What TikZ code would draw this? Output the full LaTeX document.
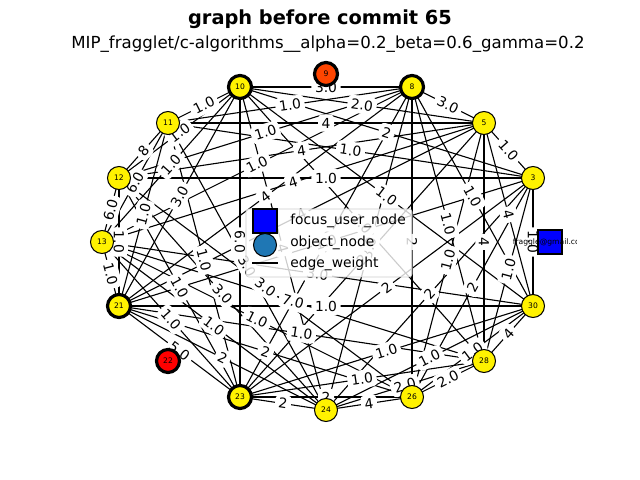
\documentclass[tikz,border=0pt]{standalone}
\usepackage{fontspec}
\setmainfont{DejaVu Sans}
\definecolor{mplblue}{HTML}{1F77B4}
\definecolor{orangered}{HTML}{FF4500}
\pgfdeclarelayer{edges}
\pgfdeclarelayer{weights}
\pgfsetlayers{edges,weights,main}
\tikzset{
  obj/.style={circle, draw, fill=yellow, line width=0.75pt, minimum size=23*0.254mm, inner sep=0pt, font=\fontsize{5.5}{6}\selectfont},
  hub/.style={line width=2.3pt},
  focus/.style={draw, fill=blue, line width=0.75pt, minimum size=24*0.254mm, inner sep=0pt},
  wlabel/.style={midway, sloped, fill=white, rounded corners=3pt, inner sep=2.6pt, font=\fontsize{10}{12}\selectfont},
  keytext/.style={anchor=west, inner sep=0pt, font=\fontsize{10}{12}\selectfont},
}
\begin{document}
\begin{tikzpicture}[x=0.254mm, y=-0.254mm]
\useasboundingbox (0,0) rectangle (640,480);
\node[font=\bfseries\fontsize{14}{16}\selectfont] (title) at (320,19) {graph before commit 65};
\node[font=\fontsize{12}{14}\selectfont] (subtitle) at (328,44) {MIP\_fragglet/c-algorithms\_\_alpha=0.2\_beta=0.6\_gamma=0.2};

\node[focus] (focus) at (550,242) {};
\node[obj] (n3) at (533,178) {3};
\node[obj] (n5) at (484,123) {5};
\node[obj, hub] (n8) at (412,87) {8};
\node[obj, hub, fill=orangered] (n9) at (326,74) {9};
\node[obj, hub] (n10) at (240,87) {10};
\node[obj] (n11) at (168,123) {11};
\node[obj] (n12) at (119,178) {12};
\node[obj] (n13) at (102,242) {13};
\node[obj, hub] (n21) at (119,306) {21};
\node[obj, hub, fill=red] (n22) at (168,361) {22};
\node[obj, hub] (n23) at (240,397) {23};
\node[obj] (n24) at (326,410) {24};
\node[obj] (n26) at (412,397) {26};
\node[obj] (n28) at (484,361) {28};
\node[obj] (n30) at (533,306) {30};
\begin{scope}
  \clip (0,0) rectangle (576,480);
  \node[font=\fontsize{5.5}{6}\selectfont] (focuslabel) at (focus) {fraggle@gmail.com};
\end{scope}

\def\weights{10/8/3.0, 10/11/1.0, 11/8/1.0, 10/5/2.0, 8/5/3.0, 5/3/1.0, 10/12/1.0, 11/12/8, 11/13/6.0, 12/13/6.0,
  12/21/1.0, 13/21/1.0, 12/23/1.0, 13/23/1.0, 13/24/1.0, 21/23/5.0, 21/24/2, 21/26/2, 13/26/1.0, 21/28/1.0,
  13/28/7.0, 21/30/1.0, 12/26/3.0, 12/24/3.0, 11/23/1.0, 21/10/3.0, 21/11/1.0, 13/10/1.0, 13/8/1.0, 12/8/1.0,
  11/5/4, 12/5/4, 11/3/1.0, 13/5/4, 12/3/1.0, 10/3/2, 21/8/4, 10/30/1.0, 8/30/1.0, 8/28/1.0,
  5/26/1.0, 5/28/4, 5/30/4, 3/28/1.0, 3/30/1.0, 30/28/4, 30/26/1.0, 28/26/2.0, 24/28/2.0, 24/30/1.0,
  23/30/1.0, 23/28/1.0, 23/24/2, 24/26/4, 8/26/2, 3/24/2, 3/26/2, 3/23/2, 10/23/6.0, 23/26/2,
  10/24/4, 10/28/1.0, 8/23/1.0, 8/24/3.0, 5/23/2, 5/21/4, 3/21/1.0, 13/30/3.0, 11/24/3.0}
\begin{pgfonlayer}{edges}
  \foreach \a/\b/\w in \weights
    \draw[line width=0.8pt] (n\a.center) -- (n\b.center);
\end{pgfonlayer}
\begin{pgfonlayer}{weights}
  \foreach \a/\b/\w in \weights
    \path (n\a.center) -- (n\b.center) node[wlabel] {\w};
\end{pgfonlayer}

\draw[black!20, fill=white, fill opacity=0.8, rounded corners=2pt] (246,209) rectangle (412,277);
\node[focus] (keyfocus) at (265,221) {};
\node[obj, fill=mplblue] (keyobj) at (265,245) {};
\draw[line width=0.8pt] (252,263) -- (278,263);
\node[keytext] (keyfocustext) at (290,221) {focus\_user\_node};
\node[keytext] (keyobjtext) at (290,243) {object\_node};
\node[keytext] (keyedgetext) at (290,264) {edge\_weight};
\end{tikzpicture}
\end{document}
